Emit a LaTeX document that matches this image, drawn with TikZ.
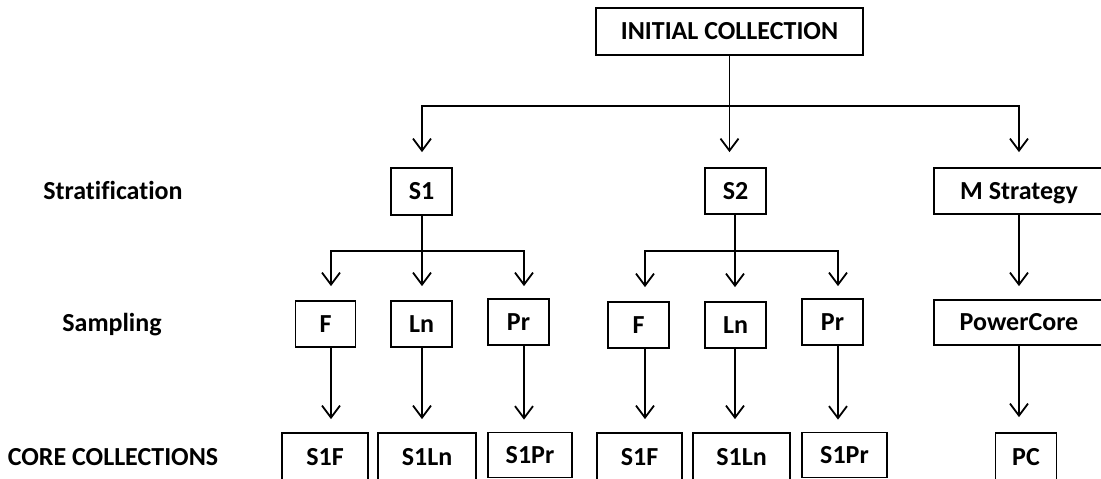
\documentclass[tikz,border=0pt]{standalone}
\usepackage{fontspec}
\setmainfont{Carlito}[RawFeature={-liga,-clig,-dlig}]
\usetikzlibrary{arrows.meta}
\begin{document}
\begin{tikzpicture}[x=1pt,y=-1pt,
  txt/.style={inner sep=0pt, text height=16.7pt, text depth=0pt,
    font=\bfseries\fontsize{26}{31}\selectfont},
  box/.style={txt, draw, line width=1.8pt},
  conn/.style={line width=1.8pt},
  arr/.style={conn, -{Straight Barb[length=12pt,width=18pt]}}]
\useasboundingbox (0,0) rectangle (1101,479);
\clip (0,0) rectangle (1101,479);
% column positions
\coordinate (x1) at (331,0);
\coordinate (x2) at (422,0);
\coordinate (x3) at (524,0);
\coordinate (x4) at (645,0);
\coordinate (x5) at (735,0);
\coordinate (x6) at (838,0);
\coordinate (x7) at (1019,0);
% labels
\node[txt] (lstrat) at (113,191.5) {Stratification};
\node[txt] (lsamp) at (112,323.5) {Sampling};
\node[txt] (lcore) at (113,457.5) {CORE COLLECTIONS};
% top
\node[box, minimum width=267pt, minimum height=47pt] (IC) at (729.5,31.5) {INITIAL COLLECTION};
% row 1
\node[box, minimum width=61pt, minimum height=47pt] (S1) at (421.5,191.5) {S1};
\node[box, minimum width=61pt, minimum height=46pt] (S2) at (735.5,191) {S2};
\node[box, minimum width=170pt, minimum height=46pt] (M) at (1019,191) {M Strategy};
% row 2
\node[box, minimum width=60pt, minimum height=46pt] (F1) at (325.5,324) {F};
\node[box, minimum width=61pt, minimum height=46pt] (Ln1) at (421.5,324) {Ln};
\node[box, minimum width=61pt, minimum height=46pt] (Pr1) at (518.5,322) {Pr};
\node[box, minimum width=61pt, minimum height=46pt] (F2) at (638.5,325) {F};
\node[box, minimum width=61pt, minimum height=46pt] (Ln2) at (735.5,325) {Ln};
\node[box, minimum width=61pt, minimum height=46pt] (Pr2) at (832.5,322) {Pr};
\node[box, minimum width=170pt, minimum height=45pt] (PW) at (1019,322.5) {PowerCore};
% row 3
\node[box, minimum width=86pt, minimum height=48pt] (C1) at (325,457) {S1F};
\node[box, minimum width=98pt, minimum height=48pt] (C2) at (427,457) {S1Ln};
\node[box, minimum width=84pt, minimum height=45pt] (C3) at (530,455) {S1Pr};
\node[box, minimum width=85pt, minimum height=48pt] (C4) at (639.5,457) {S1F};
\node[box, minimum width=97pt, minimum height=48pt] (C5) at (741.5,457) {S1Ln};
\node[box, minimum width=85pt, minimum height=45pt] (C6) at (844.5,455) {S1Pr};
\node[box, minimum width=61pt, minimum height=48pt] (PC) at (1026,457) {PC};
% top connectors
\draw[conn] (IC.south) -- (IC.south |- 0,106) coordinate (hub);
\draw[arr, shorten >=15pt] (hub) -| (x2 |- S1.north);
\draw[arr, shorten >=15pt] (hub) -| (x7 |- M.north);
\draw[arr, shorten >=15pt] (hub) -- (hub |- S2.north);
% S1 group
\draw[conn] (x2 |- S1.south) -- (x2 |- 0,251) coordinate (h1);
\draw[arr, shorten >=14pt] (h1) -| (x1 |- F1.north);
\draw[arr, shorten >=14pt] (h1) -- (x2 |- Ln1.north);
\draw[arr, shorten >=12pt] (h1) -| (x3 |- Pr1.north);
% S2 group
\draw[conn] (x5 |- S2.south) -- (x5 |- 0,251) coordinate (h2);
\draw[arr, shorten >=14pt] (h2) -| (x4 |- F2.north);
\draw[arr, shorten >=14pt] (h2) -- (x5 |- Ln2.north);
\draw[arr, shorten >=12pt] (h2) -| (x6 |- Pr2.north);
% M group
\draw[arr, shorten >=13pt] (x7 |- M.south) -- (x7 |- PW.north);
\draw[arr, shorten >=15pt] (x7 |- PW.south) -- (x7 |- PC.north);
% sampling to core
\draw[arr, shorten >=13pt] (x1 |- F1.south) -- (x1 |- C1.north);
\draw[arr, shorten >=13pt] (x2 |- Ln1.south) -- (x2 |- C2.north);
\draw[arr, shorten >=12pt] (x3 |- Pr1.south) -- (x3 |- C3.north);
\draw[arr, shorten >=13pt] (x4 |- F2.south) -- (x4 |- C4.north);
\draw[arr, shorten >=13pt] (x5 |- Ln2.south) -- (x5 |- C5.north);
\draw[arr, shorten >=12pt] (x6 |- Pr2.south) -- (x6 |- C6.north);
\end{tikzpicture}
\end{document}
